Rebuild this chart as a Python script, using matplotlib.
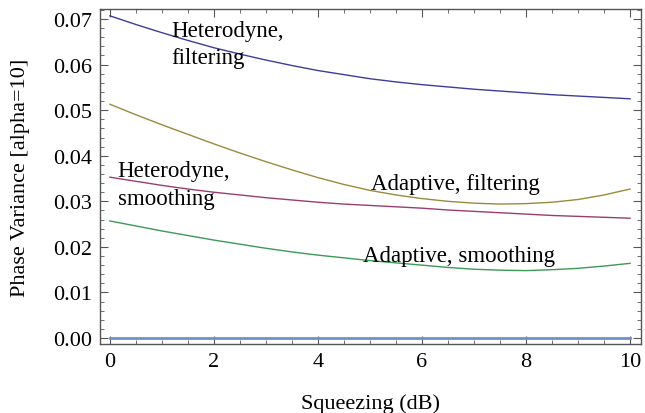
import matplotlib.pyplot as plt
from matplotlib.ticker import MultipleLocator

plt.rcParams['font.family'] = ['Liberation Serif', 'DejaVu Serif']

squeezing = [0, 0.5, 1, 1.5, 2, 2.5, 3, 3.5, 4, 4.5, 5,
             5.5, 6, 6.5, 7, 7.5, 8, 8.5, 9, 9.5, 10]

het_filter = [0.0707, 0.0688, 0.0670, 0.0653, 0.0637, 0.0623, 0.0610, 0.0598, 0.0587, 0.0578, 0.0569,
              0.0562, 0.0556, 0.0551, 0.0546, 0.0542, 0.0538, 0.0534, 0.0531, 0.0528, 0.0525]
het_smooth = [0.0353, 0.0344, 0.0335, 0.0327, 0.0320, 0.0314, 0.0308, 0.0303, 0.0298, 0.0294, 0.0291,
              0.0288, 0.0285, 0.0281, 0.0278, 0.0275, 0.0272, 0.0269, 0.0267, 0.0265, 0.0263]
ad_filter = [0.0513, 0.0490, 0.0468, 0.0447, 0.0426, 0.0406, 0.0387, 0.0369, 0.0352, 0.0337, 0.0324,
             0.0314, 0.0306, 0.0300, 0.0296, 0.0294, 0.0295, 0.0298, 0.0304, 0.0314, 0.0327]
ad_smooth = [0.0257, 0.0246, 0.0235, 0.0225, 0.0215, 0.0206, 0.0197, 0.0189, 0.0182, 0.0176, 0.0170,
             0.0165, 0.0160, 0.0155, 0.0151, 0.0149, 0.0148, 0.0150, 0.0153, 0.0158, 0.0164]
baseline = [0.0] * len(squeezing)

labels = ['Heterodyne,\nfiltering', 'Heterodyne,\nsmoothing',
          'Adaptive, filtering', 'Adaptive, smoothing']
label_pos = [(1.19, 0.0698), (0.15, 0.0390), (5.02, 0.0363), (4.86, 0.0205)]

fig = plt.figure(figsize=(6.45, 4.14), dpi=100)
ax = fig.add_axes([100/645, 1 - 345/414, 541/645, 335/414])

ax.plot(squeezing, het_filter, color='#3d3d99', lw=1)
ax.plot(squeezing, het_smooth, color='#993d71', lw=1)
ax.plot(squeezing, ad_filter, color='#998b3d', lw=1)
ax.plot(squeezing, ad_smooth, color='#3d9956', lw=1)
ax.plot(squeezing, baseline, color='#7090c8', lw=2)

for txt, (tx, ty) in zip(labels, label_pos):
    ax.text(tx, ty, txt, fontsize=16.5, ha='left', va='top', linespacing=1.4)

ax.set_xlim(-0.19, 10.21)
ax.set_ylim(-0.0013, 0.0722)

ax.xaxis.set_major_locator(MultipleLocator(2))
ax.xaxis.set_minor_locator(MultipleLocator(0.5))
ax.yaxis.set_major_locator(MultipleLocator(0.01))
ax.yaxis.set_minor_locator(MultipleLocator(0.002))
ax.yaxis.set_major_formatter(plt.FormatStrFormatter('%.2f'))

ax.tick_params(which='both', direction='in', top=True, right=True,
               color='#555555', labelsize=16)
ax.tick_params(which='major', length=6, width=0.8, pad=6)
ax.tick_params(which='minor', length=3, width=0.6)
for sp in ax.spines.values():
    sp.set_color('#555555')
    sp.set_linewidth(1)

ax.set_xlabel('Squeezing (dB)', fontsize=16, labelpad=16)
ax.set_ylabel('Phase Variance [alpha=10]', fontsize=16, labelpad=16)

fig.savefig('out.png', dpi=100)
